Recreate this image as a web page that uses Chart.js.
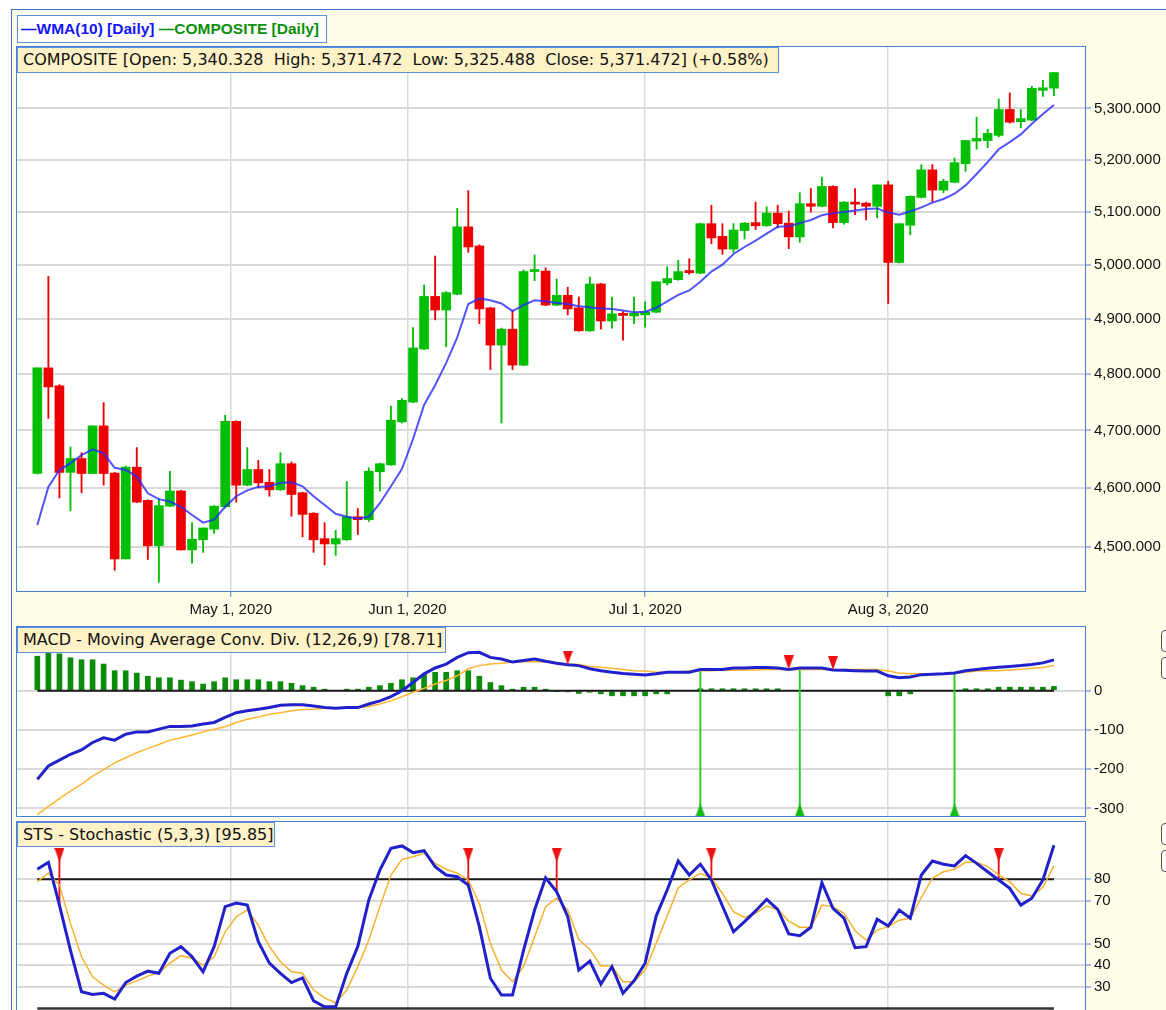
<!DOCTYPE html>
<html>
<head>
<meta charset="utf-8">
<title>COMPOSITE daily</title>
<script src="https://cdn.jsdelivr.net/npm/chart.js@4.4.1/dist/chart.umd.min.js"></script>
<style>
  html, body { margin: 0; padding: 0; width: 1166px; height: 1010px; overflow: hidden; background: #ffffff; }
  #frame { position: absolute; left: 11px; top: 9px; width: 1170px; height: 1020px; background: #fffde8; border: 1px solid #3d74d4; }
  canvas { position: absolute; left: 0; }
  .tag { position: absolute; box-sizing: border-box; border: 1px solid #5c8fe0; background: #fff2c6; color: #111;
         font: 16px "DejaVu Sans", sans-serif; white-space: pre; padding: 2px 0 0 5px; }
  #legend { left: 17px; top: 15px; width: 310px; height: 28px; background: #fff; font: bold 15.5px "Liberation Sans", sans-serif; padding: 4px 0 0 3px; }
  .knob { position: absolute; left: 1161px; width: 22px; height: 22px; box-sizing: border-box; border: 1px solid #555; border-radius: 4px; background: #fff; }
</style>
</head>
<body>
<div id="frame"></div>
<canvas id="priceChart" width="1166" height="592" style="top:34px"></canvas>
<canvas id="macdChart" width="1166" height="215" style="top:614px"></canvas>
<canvas id="stsChart" width="1166" height="243" style="top:809px"></canvas>
<div id="legend" class="tag"><span style="color:#1414ff">—WMA(10) [Daily]</span> <span style="color:#0a900a">—COMPOSITE [Daily]</span></div>
<div class="tag" style="left:17px;top:47px;width:762px;height:26px">COMPOSITE [Open: 5,340.328  High: 5,371.472  Low: 5,325.488  Close: 5,371.472] (+0.58%)</div>
<div class="tag" style="left:17px;top:627px;width:429px;height:26px">MACD - Moving Average Conv. Div. (12,26,9) [78.71]</div>
<div class="tag" style="left:17px;top:822px;width:258px;height:25px">STS - Stochastic (5,3,3) [95.85]</div>
<div class="knob" style="top:630px"></div>
<div class="knob" style="top:657px"></div>
<div class="knob" style="top:823px"></div>
<div class="knob" style="top:850px"></div>

<script>
// ---- data (one value per trading day, 93 days) ----
const dateLabels = ['May 1, 2020', 'Jun 1, 2020', 'Jul 1, 2020', 'Aug 3, 2020'];
const dateTickPos = [17.5, 33.5, 55, 77];

const opens = [4625, 4811, 4779, 4627, 4651, 4625, 4708, 4626, 4480, 4636,
  4579, 4502, 4569, 4595, 4495, 4512, 4530, 4568, 4716, 4605,
  4632, 4610, 4597, 4642, 4592, 4557, 4514, 4505, 4512, 4551,
  4546, 4628, 4640, 4715, 4750, 4845, 4941, 4916, 4945, 5071,
  5035, 4920, 4852, 4881, 4816, 4987, 4988, 4925, 4943, 4920,
  4878, 4964, 4896, 4910, 4905, 4907, 4912, 4966, 4972, 4989,
  4984, 5077, 5053, 5029, 5064, 5079, 5073, 5097, 5078, 5052,
  5115, 5110, 5148, 5079, 5118, 5116, 5110, 5151, 5004, 5074,
  5127, 5180, 5141, 5156, 5192, 5236, 5237, 5247, 5298, 5274,
  5277, 5336, 5340.328];
const highs = [4811, 4978, 4781, 4671, 4661, 4708, 4749, 4627, 4638, 4670,
  4580, 4582, 4629, 4596, 4541, 4532, 4570, 4727, 4717, 4670,
  4648, 4632, 4661, 4645, 4593, 4558, 4541, 4528, 4611, 4565,
  4635, 4643, 4743, 4756, 4884, 4962, 5016, 4950, 5106, 5140,
  5037, 4921, 4883, 4916, 4990, 5018, 4994, 4973, 4958, 4940,
  4977, 4965, 4940, 4913, 4940, 4931, 4968, 4996, 5008, 5011,
  5078, 5112, 5077, 5077, 5079, 5118, 5109, 5112, 5101, 5136,
  5144, 5166, 5149, 5119, 5144, 5118, 5151, 5158, 5077, 5130,
  5190, 5190, 5162, 5203, 5237, 5283, 5259, 5319, 5331, 5298,
  5344, 5356, 5371.472];
const lows = [4624, 4721, 4583, 4561, 4592, 4625, 4605, 4461, 4480, 4575,
  4479, 4441, 4568, 4495, 4473, 4491, 4523, 4566, 4576, 4604,
  4600, 4586, 4596, 4552, 4517, 4491, 4470, 4486, 4511, 4521,
  4543, 4595, 4639, 4713, 4749, 4844, 4898, 4849, 4944, 5023,
  4891, 4808, 4713, 4808, 4815, 4970, 4924, 4924, 4907, 4877,
  4877, 4881, 4883, 4861, 4891, 4885, 4911, 4962, 4971, 4982,
  4983, 5039, 5019, 5023, 5048, 5066, 5072, 5069, 5030, 5042,
  5099, 5109, 5069, 5076, 5094, 5084, 5088, 4928, 5003, 5056,
  5126, 5118, 5136, 5155, 5177, 5220, 5223, 5244, 5271, 5262,
  5276, 5324, 5325.488];
const closes = [4811, 4777, 4627, 4651, 4625, 4708, 4625, 4480, 4636, 4576,
  4502, 4570, 4595, 4495, 4513, 4532, 4569, 4716, 4605, 4632,
  4609, 4597, 4642, 4589, 4555, 4512, 4505, 4514, 4551, 4546,
  4629, 4642, 4718, 4753, 4847, 4941, 4916, 4948, 5071, 5033,
  4918, 4852, 4881, 4816, 4987, 4990, 4925, 4943, 4918, 4878,
  4964, 4896, 4909, 4906, 4910, 4913, 4968, 4974, 4987, 4985,
  5077, 5050, 5029, 5065, 5078, 5073, 5097, 5077, 5052, 5115,
  5110, 5148, 5079, 5118, 5114, 5110, 5151, 5004, 5077, 5129,
  5180, 5141, 5158, 5194, 5237, 5241, 5251, 5298, 5273, 5280,
  5340, 5341, 5371.472];
const wma10 = [4537, 4602, 4631, 4643, 4657, 4667, 4660, 4635, 4631, 4620,
  4591, 4581, 4577, 4568, 4554, 4541, 4546, 4568, 4586, 4596,
  4602, 4603, 4609, 4610, 4603, 4586, 4571, 4556, 4551, 4548,
  4551, 4574, 4603, 4633, 4685, 4745, 4780, 4820, 4866, 4927,
  4937, 4934, 4928, 4914, 4925, 4934, 4932, 4929, 4927, 4923,
  4921, 4919, 4918, 4915, 4912, 4913, 4920, 4932, 4944, 4952,
  4968, 4987, 5000, 5020, 5033, 5045, 5058, 5071, 5072, 5078,
  5084, 5093, 5097, 5099, 5102, 5105, 5106, 5098, 5094, 5100,
  5108, 5117, 5124, 5134, 5150, 5172, 5195, 5220, 5234, 5249,
  5270, 5289, 5307];

const macdLine = [-226, -192, -177, -162, -151, -132, -120, -126, -111, -105,
  -105, -98, -91, -91, -90, -85, -81, -68, -56, -51,
  -47, -43, -37, -36, -36, -39, -43, -45, -43, -43,
  -34, -26, -15, 0, 21, 43, 58, 68, 85, 97,
  98, 85, 81, 73, 77, 81, 75, 70, 66, 64,
  56, 51, 47, 44, 42, 40, 43, 47, 47, 47,
  54, 54, 54, 58, 58, 59, 59, 58, 54, 58,
  58, 58, 53, 52, 51, 50, 50, 38, 33, 35,
  41, 42, 43, 45, 51, 54, 57, 60, 62, 64,
  67, 71, 78.71];
const macdSignal = [-316, -295, -275, -256, -238, -218, -201, -184, -171, -158,
  -147, -137, -126, -120, -113, -105, -98, -92, -81, -73,
  -67, -60, -56, -51, -48, -47, -45, -45, -45, -43,
  -40, -34, -26, -15, -4, 6, 17, 26, 38, 56,
  64, 68, 70, 73, 74, 74, 73, 70, 68, 67,
  62, 60, 57, 54, 51, 50, 47, 47, 48, 50,
  51, 51, 52, 52, 53, 53, 54, 54, 54, 54,
  54, 54, 54, 54, 54, 54, 54, 50, 45, 43,
  43, 43, 43, 44, 47, 50, 51, 51, 53, 55,
  57, 59, 64];
const macdHist = [88, 96, 94, 84, 79, 79, 68, 51, 51, 45,
  37, 33, 33, 27, 23, 17, 23, 33, 28, 28,
  28, 23, 23, 19, 13, 9, 4, 0, 4, 4,
  9, 13, 19, 28, 33, 41, 47, 47, 51, 51,
  37, 21, 13, 4, 9, 9, 4, -1, -3, -7,
  -4, -8, -13, -13, -13, -13, -8, -8, 0, 0,
  5, 5, 5, 5, 5, 5, 5, 5, 0, 0,
  0, 0, 0, 0, 0, 0, 0, -13, -13, -8,
  0, 0, 0, 0, 5, 5, 5, 9, 9, 9,
  9, 9, 11];
const macdSellDays = [48, 68, 72];
const macdBuyDays = [60, 69, 83];

const stochK = [84.7, 87.9, 68, 47, 27.7, 26.5, 27, 24.3, 32, 35,
  37.3, 36.3, 45.6, 48.7, 44, 37, 48.7, 67.3, 69, 68,
  51, 41, 36.3, 32, 34.2, 23.5, 20.7, 20.7, 36.3, 48.7,
  70.4, 84.3, 94.4, 95.5, 92.4, 93.3, 85.9, 82, 81.2, 77.3,
  58, 34, 26.2, 26.2, 47, 65.7, 80.7, 74.2, 62.6, 37.8,
  42, 31.3, 39.4, 27, 32.8, 41, 62.9, 75, 88.5, 82,
  87, 79.7, 67.6, 55.6, 60.3, 65.3, 70.7, 66, 54.6, 53.8,
  57.7, 78.4, 66.5, 61.9, 48.2, 48.7, 61.4, 58.3, 65.7, 61.9,
  82, 88.5, 87, 86.2, 91, 87.4, 83.5, 79.7, 75.8, 68,
  71.2, 79.7, 95.85];
const stochD = [78.9, 82.8, 77.3, 59.5, 44, 34.7, 30.8, 27.7, 30.8, 32.8,
  35, 36.6, 41, 44.5, 43.3, 40.1, 44, 55.6, 62.6, 65.7,
  58.7, 48.7, 41.7, 37, 36.3, 28.5, 24.9, 22.6, 28.5, 39.4,
  51.8, 67.3, 82, 89.3, 90.5, 92.1, 87.4, 84.7, 82.8, 79.7,
  68.8, 50.2, 37.8, 32.4, 39.4, 53.3, 67.3, 71.2, 65.7, 52,
  47.4, 39.7, 39.7, 32.4, 32.4, 37.8, 50.2, 62.9, 76.1, 79.7,
  82.8, 80.5, 73.5, 64.9, 62.3, 64.2, 67.6, 66, 60.6, 57.7,
  57.7, 68, 67.3, 64.2, 56.1, 51.8, 56.4, 58, 61, 61.9,
  71.6, 80.5, 83.5, 84.7, 87.9, 87.9, 85.9, 82, 78.9, 73.5,
  72.2, 76.3, 86.2];
const stsSellDays = [2, 39, 47, 61, 87];

const priceTicks = [4500, 4600, 4700, 4800, 4900, 5000, 5100, 5200, 5300];
const macdTicks = [-300, -200, -100, 0];
const stsTicks = [30, 40, 50, 70, 80];

// ---- look & layout ----
Chart.defaults.font.family = '"Liberation Sans", Arial, sans-serif';
Chart.defaults.font.size = 15;
Chart.defaults.color = '#111';

const BLUE_EDGE = '#4a7fd6';
const GRID = '#d9d9d9';
const X_MIN = -1.93, X_MAX = 94.9;
const MACD_MIN = -322, MACD_MAX = 165;
const STS_MIN = 5.3, STS_MAX = 107.1;

const days = opens.map((_, i) => i);
const lastDay = days.length - 1;
const candleColors = days.map(i => closes[i] >= opens[i] ? '#00bf00' : '#ee0000');
const pts = arr => days.map(i => ({ x: i, y: arr[i] }));

// white plot area + blue frame around each panel
const panelFrame = {
  id: 'panelFrame',
  beforeDraw(chart) {
    const { ctx, chartArea: a } = chart;
    ctx.save();
    ctx.fillStyle = '#ffffff';
    ctx.fillRect(a.left, a.top, a.right - a.left, a.bottom - a.top);
    ctx.restore();
  },
  afterDraw(chart) {
    const { ctx, chartArea: a } = chart;
    ctx.save();
    ctx.strokeStyle = BLUE_EDGE;
    ctx.lineWidth = 1;
    ctx.strokeRect(a.left + 0.5, a.top + 0.5, a.right - a.left - 1, a.bottom - a.top - 1);
    ctx.restore();
  }
};

// narrow triangle markers
function triangleMark(color, pointDown) {
  const c = document.createElement('canvas');
  c.width = 10; c.height = 14;
  const g = c.getContext('2d');
  g.fillStyle = color;
  g.beginPath();
  if (pointDown) { g.moveTo(0, 0); g.lineTo(10, 0); g.lineTo(5, 14); }
  else { g.moveTo(5, 0); g.lineTo(10, 14); g.lineTo(0, 14); }
  g.closePath();
  g.fill();
  return c;
}
const redDown = triangleMark('#ee1111', true);
const greenUp = triangleMark('#11bb11', false);

function dateAxis(showLabels) {
  return {
    type: 'linear', min: X_MIN, max: X_MAX, bounds: 'data', offset: false,
    afterBuildTicks: s => { s.ticks = dateTickPos.map(v => ({ value: v })); },
    afterFit: s => { s.height = showLabels ? 34 : 0; s.paddingLeft = 0; s.paddingRight = 0; },
    ticks: { display: showLabels, autoSkip: false, maxRotation: 0, padding: 4,
             callback: (v, i) => dateLabels[i] },
    grid: { offset: false, color: GRID, lineWidth: 1.5, drawTicks: showLabels, tickLength: 5, tickColor: BLUE_EDGE, tickWidth: 1 },
    border: { display: false }
  };
}
function valueAxis(extra) {
  return Object.assign({
    position: 'right', bounds: 'data',
    afterFit: s => { s.width = 80; s.paddingTop = 0; s.paddingBottom = 0; },
    grid: { color: GRID, lineWidth: 2, tickLength: 5, tickColor: BLUE_EDGE, tickWidth: 1 },
    border: { display: false }
  }, extra);
}
const common = {
  responsive: false,
  animation: false,
  events: [],
  plugins: { legend: { display: false }, tooltip: { enabled: false } }
};

// ---- price panel ----
new Chart(document.getElementById('priceChart'), {
  type: 'bar',
  data: {
    datasets: [
      { label: 'wick', data: days.map(i => ({ x: i, y: [lows[i], highs[i]] })),
        backgroundColor: candleColors, barThickness: 1.2, grouped: false, order: 3 },
      { label: 'COMPOSITE', data: days.map(i => ({ x: i, y: [opens[i], closes[i]] })),
        backgroundColor: candleColors, barThickness: 9, minBarLength: 2, grouped: false, order: 2 },
      { type: 'line', label: 'WMA(10)', data: pts(wma10), borderColor: 'rgba(40,40,255,0.8)',
        borderWidth: 2, pointRadius: 0, tension: 0, order: 1 }
    ]
  },
  options: Object.assign({}, common, {
    layout: { padding: { left: 16, top: 12, right: 0, bottom: 0 } },
    scales: {
      x: dateAxis(true),
      y: valueAxis({
        type: 'logarithmic', min: 4425, max: 5425,
        afterBuildTicks: s => { s.ticks = priceTicks.map(v => ({ value: v })); },
        ticks: { padding: 3, callback: v => v.toLocaleString('en-US', { minimumFractionDigits: 3, maximumFractionDigits: 3 }) }
      })
    }
  }),
  plugins: [panelFrame]
});

// ---- MACD panel ----
new Chart(document.getElementById('macdChart'), {
  type: 'bar',
  data: {
    datasets: [
      { label: 'hist', data: pts(macdHist), backgroundColor: '#0b8c0b', barThickness: 5, grouped: false, order: 6 },
      { type: 'line', label: 'zero', data: [{ x: 0, y: 0 }, { x: lastDay, y: 0 }],
        borderColor: '#1a1a1a', borderWidth: 2, pointRadius: 0, order: 5 },
      { label: 'buy line', data: macdBuyDays.map(i => ({ x: i, y: [MACD_MIN, macdLine[i]] })),
        backgroundColor: '#22cc22', barThickness: 1.2, grouped: false, order: 4 },
      { type: 'line', label: 'signal', data: pts(macdSignal), borderColor: '#ffb52e',
        borderWidth: 1.5, pointRadius: 0, tension: 0, order: 3 },
      { type: 'line', label: 'MACD', data: pts(macdLine), borderColor: '#2121cc',
        borderWidth: 3, pointRadius: 0, tension: 0, order: 2 },
      { type: 'line', label: 'sell', data: macdSellDays.map(i => ({ x: i, y: macdLine[i] + 18 })),
        showLine: false, pointStyle: redDown, pointRadius: 7, order: 1 },
      { type: 'line', label: 'buy', data: macdBuyDays.map(i => ({ x: i, y: MACD_MIN + 18 })),
        showLine: false, pointStyle: greenUp, pointRadius: 7, order: 1 }
    ]
  },
  options: Object.assign({}, common, {
    layout: { padding: { left: 16, top: 12, right: 0, bottom: 12 } },
    scales: {
      x: dateAxis(false),
      y: valueAxis({
        type: 'linear', min: MACD_MIN, max: MACD_MAX,
        afterBuildTicks: s => { s.ticks = macdTicks.map(v => ({ value: v })); },
        ticks: { padding: 3, callback: v => String(v) }
      })
    }
  }),
  plugins: [panelFrame]
});

// ---- Stochastic panel ----
new Chart(document.getElementById('stsChart'), {
  type: 'bar',
  data: {
    datasets: [
      { type: 'line', label: 'overbought', data: [{ x: 0, y: 80 }, { x: lastDay, y: 80 }],
        borderColor: '#1a1a1a', borderWidth: 2, pointRadius: 0, order: 6 },
      { type: 'line', label: 'oversold', data: [{ x: 0, y: 20 }, { x: lastDay, y: 20 }],
        borderColor: '#333333', borderWidth: 2.5, pointRadius: 0, order: 6 },
      { label: 'sell line', data: stsSellDays.map(i => ({ x: i, y: [stochK[i], 91] })),
        backgroundColor: '#ee1111', barThickness: 1.2, grouped: false, order: 5 },
      { type: 'line', label: '%D', data: pts(stochD), borderColor: '#f7b22e',
        borderWidth: 1.5, pointRadius: 0, tension: 0, order: 3 },
      { type: 'line', label: '%K', data: pts(stochK), borderColor: '#2121cc',
        borderWidth: 3, pointRadius: 0, tension: 0, order: 2 },
      { type: 'line', label: 'sell', data: stsSellDays.map(i => ({ x: i, y: 91.3 })),
        showLine: false, pointStyle: redDown, pointRadius: 7, order: 1 }
    ]
  },
  options: Object.assign({}, common, {
    layout: { padding: { left: 16, top: 12, right: 0, bottom: 12 } },
    scales: {
      x: dateAxis(false),
      y: valueAxis({
        type: 'linear', min: STS_MIN, max: STS_MAX,
        afterBuildTicks: s => { s.ticks = stsTicks.map(v => ({ value: v })); },
        ticks: { padding: 3, callback: v => String(v) }
      })
    }
  }),
  plugins: [panelFrame]
});
</script>
</body>
</html>
